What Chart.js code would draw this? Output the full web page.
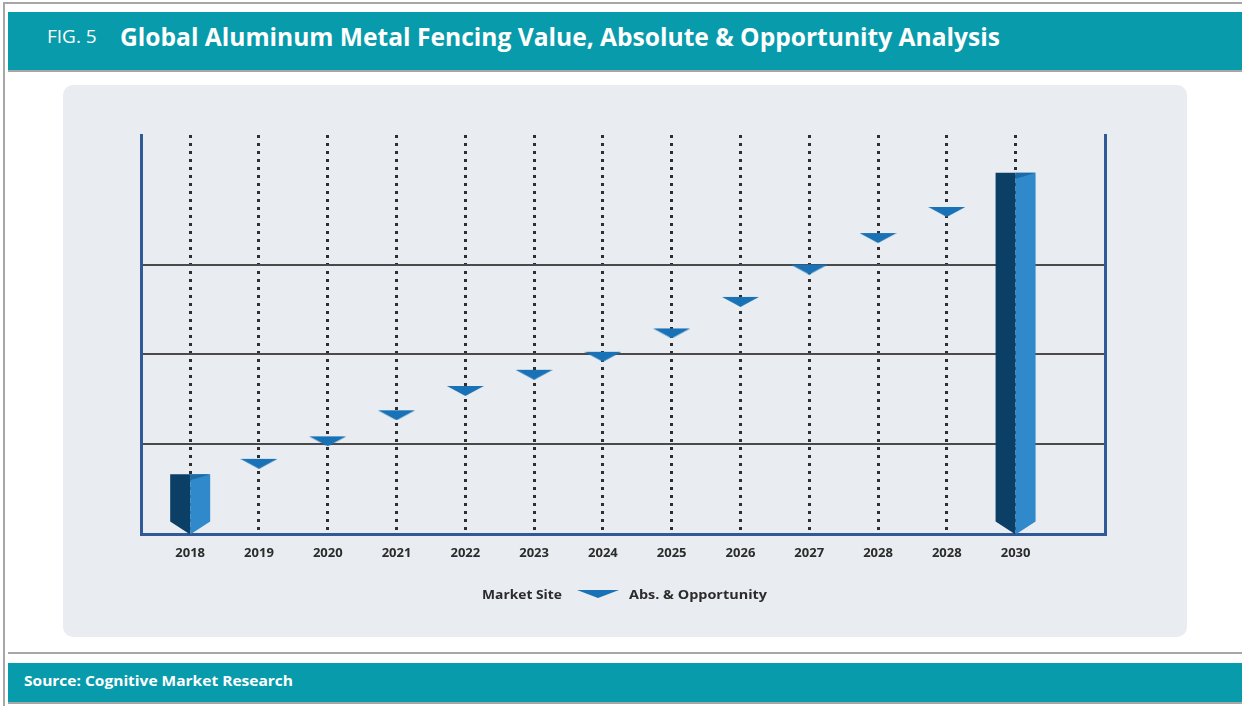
<!DOCTYPE html>
<html>
<head>
<meta charset="utf-8">
<script src="https://cdn.jsdelivr.net/npm/chart.js@4.4.1/dist/chart.umd.min.js"></script>
<style>
  html, body { margin:0; padding:0; background:#ffffff; }
  #page { position:relative; width:1242px; height:706px; overflow:hidden; font-family:"Open Sans", sans-serif; }
  .gline { position:absolute; background:#a6a6a6; }
  #header { position:absolute; left:8px; top:12px; width:1234px; height:58px; background:#089bab; }
  #fig { position:absolute; left:47px; top:22px; color:#fff; font-size:19px; line-height:28px; white-space:nowrap; }
  #title { position:absolute; left:120px; top:19px; color:#fff; font-weight:700; font-size:25px; line-height:34px; white-space:nowrap; transform-origin:0 50%; }
  #panel { position:absolute; left:63px; top:85px; width:1124px; height:552px; background:#e9edf1; border-radius:10px; }
  #footer { position:absolute; left:8px; top:663px; width:1234px; height:39px; background:#089bab; }
  #source { position:absolute; left:24px; top:669px; color:#fff; font-weight:700; font-size:15px; line-height:22px; white-space:nowrap; transform-origin:0 50%; }
  #wrap { position:absolute; left:0; top:0; width:1242px; height:706px; }
  .leg { position:absolute; top:585px; font-weight:700; font-size:13px; color:#2b2b2b; line-height:18px; white-space:nowrap; transform-origin:0 50%; }
  #legTri { position:absolute; left:577px; top:589px; }
</style>
</head>
<body>
<div id="page">
  <div class="gline" style="left:3px; top:2px; width:1239px; height:2px;"></div>
  <div class="gline" style="left:3px; top:2px; width:2px; height:704px;"></div>
  <div id="header"></div>
  <div class="gline" style="left:8px; top:70px; width:1234px; height:2px;"></div>
  <div id="fig">FIG. 5</div>
  <div id="title">Global Aluminum Metal Fencing Value, Absolute &amp; Opportunity Analysis</div>
  <div id="panel"></div>
  <div class="gline" style="left:8px; top:652px; width:1234px; height:2px;"></div>
  <div id="footer"></div>
  <div class="gline" style="left:8px; top:702px; width:1234px; height:2px;"></div>
  <div id="source">Source: Cognitive Market Research</div>
  <div id="wrap"><canvas id="c"></canvas></div>
  <div class="leg" id="leg1" style="left:482px;">Market Site</div>
  <canvas id="legTri" width="42" height="10"></canvas>
  <div class="leg" id="leg2" style="left:629px;">Abs. &amp; Opportunity</div>
</div>
<script>
// ---- data ----
const categories = ['2018','2019','2020','2021','2022','2023','2024','2025','2026','2027','2028','2028','2030'];
const marketSite = [6.7, null, null, null, null, null, null, null, null, null, null, null, 40.2];
const absOpportunity = [null, 8.4, 10.9, 13.8, 16.5, 18.3, 20.3, 22.9, 26.4, 30.0, 33.5, 36.4, null];
const seriesNames = ['Market Site', 'Abs. & Opportunity'];

// ---- fit texts ----
function fitWidth(id, w) {
  const el = document.getElementById(id);
  const cw = el.getBoundingClientRect().width;
  el.style.transform = 'scaleX(' + (w / cw) + ')';
}
fitWidth('title', 880);
fitWidth('source', 269);
fitWidth('leg1', 80);
fitWidth('leg2', 138);

// ---- marker image ----
const BLUE = '#1a72b6';
function makeTri(w, h, padTop) {
  const cv = document.createElement('canvas');
  cv.width = w; cv.height = padTop + h;
  const g = cv.getContext('2d');
  g.fillStyle = BLUE;
  g.beginPath();
  g.moveTo(0, padTop);
  g.lineTo(w, padTop);
  g.lineTo(w/2, padTop + h);
  g.closePath();
  g.fill();
  return cv;
}
const triMarker = makeTri(37, 10, 10); // top edge at image centre
(function(){
  const g = document.getElementById('legTri').getContext('2d');
  g.fillStyle = BLUE;
  g.beginPath(); g.moveTo(0,1); g.lineTo(42,1); g.lineTo(21,9); g.closePath(); g.fill();
})();

const toPts = arr => arr.map((v, i) => (v === null ? null : { x: i, y: v })).filter(p => p);

// ---- custom prism bars ----
const prismPlugin = {
  id: 'prism',
  afterDatasetsDraw(chart) {
    const meta = chart.getDatasetMeta(0);
    const ctx = chart.ctx;
    meta.data.forEach(bar => {
      const cx = bar.x, top = bar.y, base = bar.base, hw = 20, v = 13;
      ctx.save();
      ctx.fillStyle = '#0b3f66';
      ctx.beginPath();
      ctx.moveTo(cx - hw, top); ctx.lineTo(cx, top); ctx.lineTo(cx, base);
      ctx.lineTo(cx - hw, base - v); ctx.closePath(); ctx.fill();
      ctx.fillStyle = '#3089cb';
      ctx.beginPath();
      ctx.moveTo(cx, top); ctx.lineTo(cx + hw, top); ctx.lineTo(cx + hw, base - v);
      ctx.lineTo(cx, base); ctx.closePath(); ctx.fill();
      ctx.fillStyle = '#1c6aa6';
      ctx.beginPath();
      ctx.moveTo(cx, top); ctx.lineTo(cx + hw, top); ctx.lineTo(cx, top + 6); ctx.closePath(); ctx.fill();
      ctx.restore();
    });
  }
};

new Chart(document.getElementById('c'), {
  type: 'bar',
  data: {
    datasets: [
      { type: 'bar', label: seriesNames[0], data: toPts(marketSite), backgroundColor: 'rgba(0,0,0,0)', barThickness: 40, order: 2 },
      { type: 'line', label: seriesNames[1], data: toPts(absOpportunity), showLine: false,
        pointStyle: triMarker, pointRadius: 10, pointHoverRadius: 10, order: 1 }
    ]
  },
  options: {
    responsive: true, maintainAspectRatio: false, animation: false,
    layout: { padding: { left: 141, right: 137, top: 135, bottom: 134 } },
    plugins: { legend: { display: false }, tooltip: { enabled: false } },
    scales: {
      x: {
        type: 'linear', min: -0.715, max: 13.3, offset: false,
        afterBuildTicks: axis => { axis.ticks = categories.map((c, i) => ({ value: i })); },
        ticks: { includeBounds: false, stepSize: 1, padding: 11, color: '#2b2b2b',
                 font: { family: 'Open Sans', weight: 'bold', size: 13 },
                 callback: v => categories[v] ?? '' , maxRotation: 0, autoSkip: false },
        grid: { color: '#2e2e2e', lineWidth: 3, drawTicks: false, offset: false },
        border: { display: true, color: '#2f5a96', width: 3, dash: [3, 5] }
      },
      y: {
        min: 0, max: 44.4,
        afterBuildTicks: axis => { axis.ticks = [{ value: 10 }, { value: 20 }, { value: 30 }]; },
        ticks: { display: false },
        grid: { color: '#4a4a4a', lineWidth: 2, drawTicks: false },
        border: { display: true, color: '#2f5a96', width: 3 }
      },
      y2: {
        position: 'right', min: 0, max: 44.4,
        ticks: { display: false },
        grid: { display: false, drawTicks: false },
        border: { display: true, color: '#2f5a96', width: 3 }
      }
    }
  },
  plugins: [prismPlugin]
});
</script>
</body>
</html>
